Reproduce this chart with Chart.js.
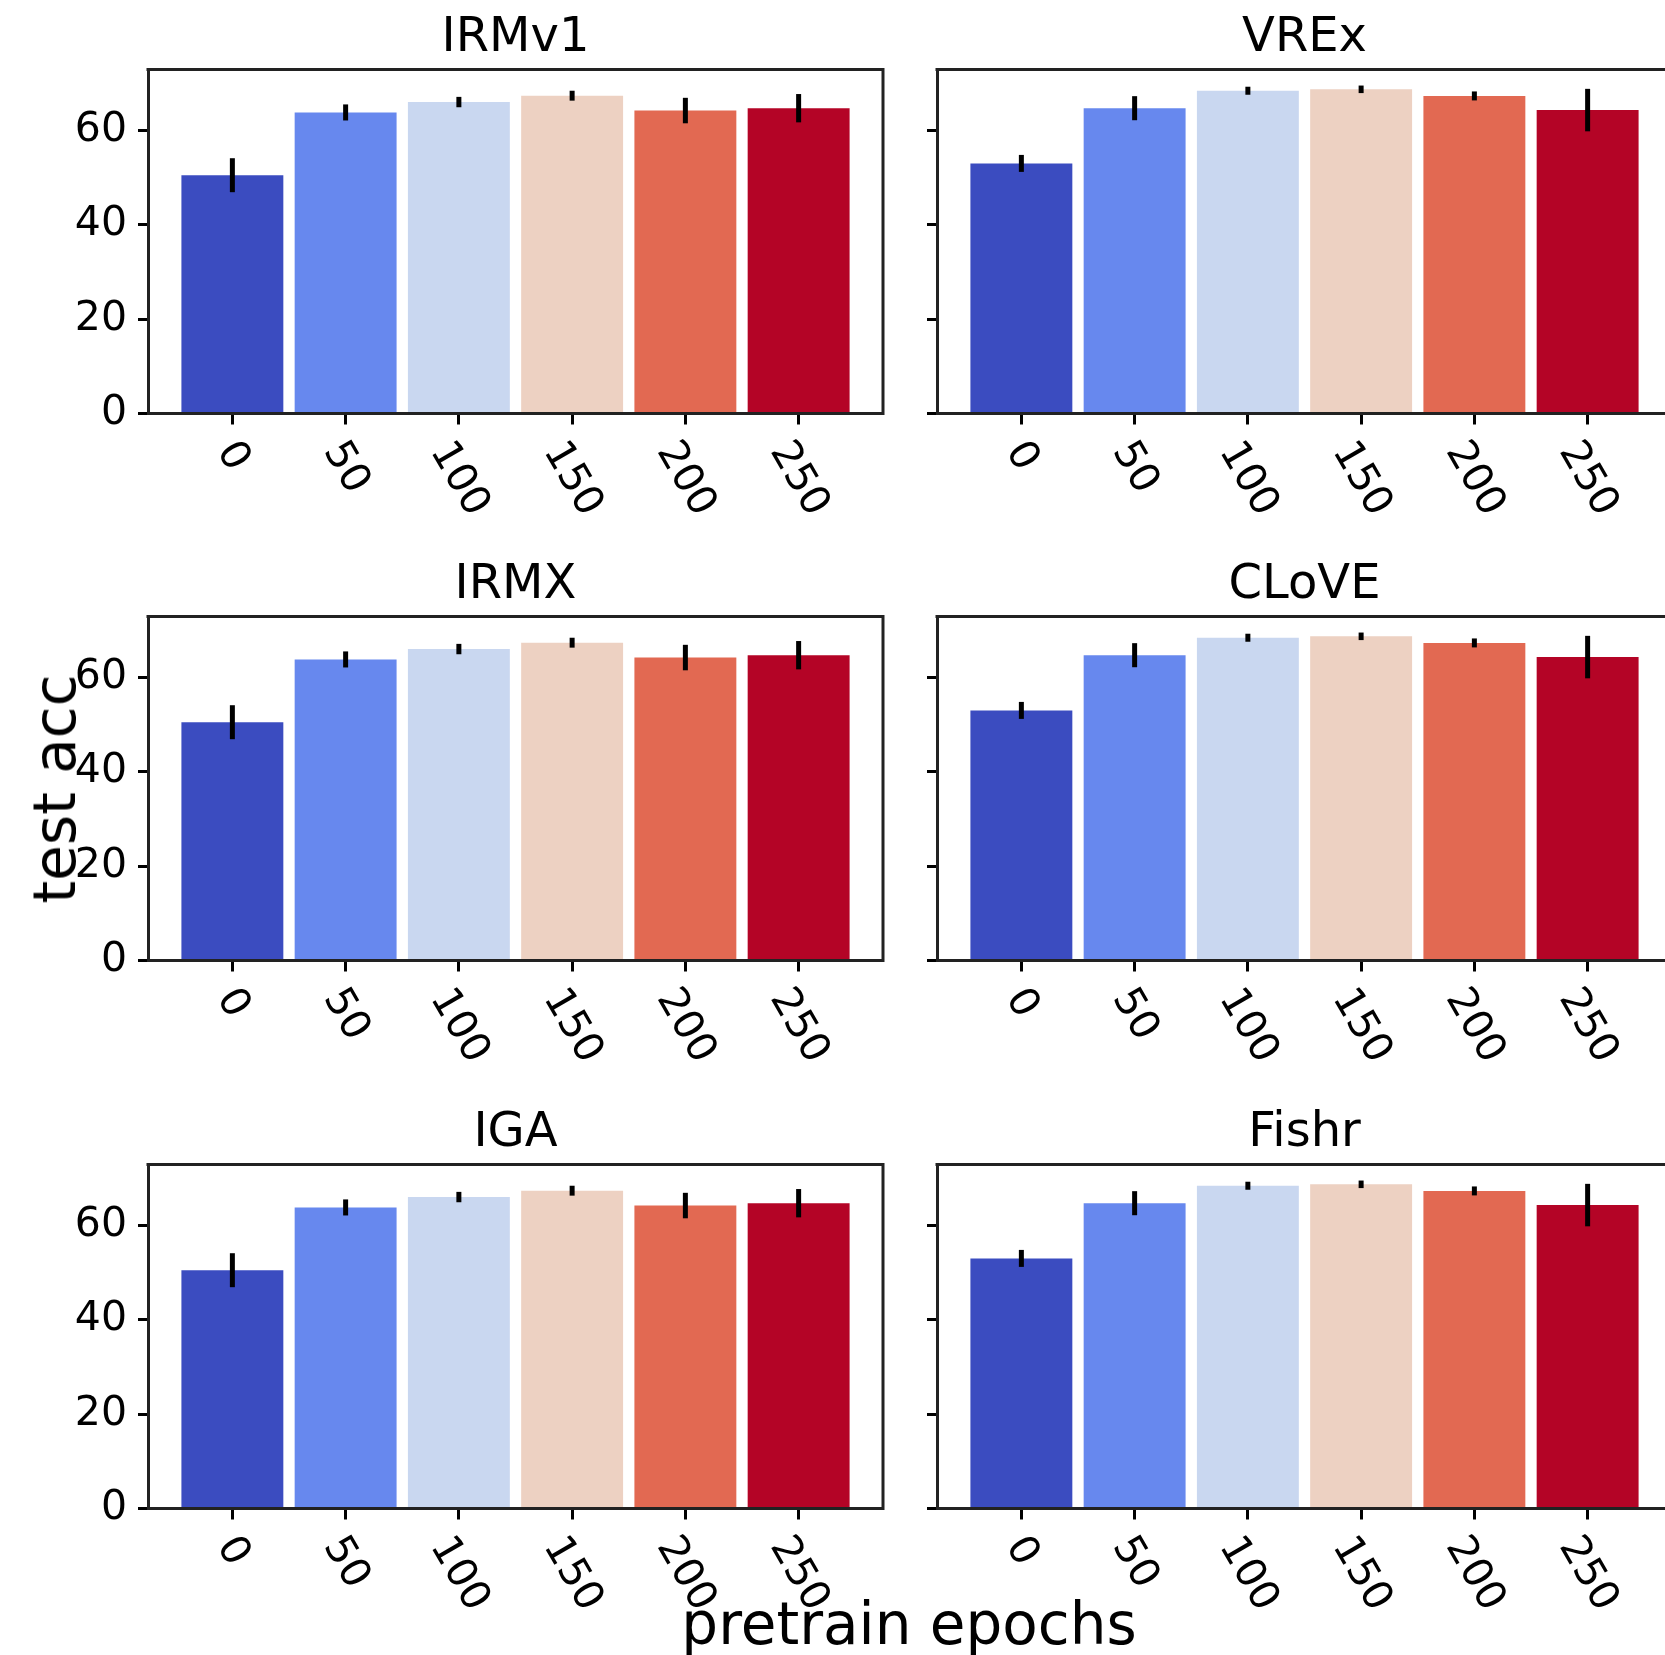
<!DOCTYPE html>
<html><head><meta charset="utf-8">
<script src="https://cdn.jsdelivr.net/npm/chart.js@4.4.1/dist/chart.umd.min.js"></script>
<style>
html,body{margin:0;padding:0;background:#fff;overflow:hidden;width:1665px;height:1655px;}
#fig{position:relative;width:1665px;height:1655px;overflow:hidden;background:#fff;}
canvas{position:absolute;}
.lbl{position:absolute;font-family:'DejaVu Sans';font-size:58px;line-height:58px;white-space:nowrap;color:#000;z-index:5;}
</style></head><body><div id="fig"></div>
<script>
// ---- data ----
const epochs = [0, 50, 100, 150, 200, 250];
const yTicks = [0, 20, 40, 60];
const titles = ['IRMv1', 'VREx', 'IRMX', 'CLoVE', 'IGA', 'Fishr'];
const irmv1Acc = [50.5, 63.8, 66.0, 67.35, 64.2, 64.7];
const irmv1Err = [3.6, 1.7, 1.1, 1.05, 2.7, 3.0];
const vrexAcc  = [53.0, 64.7, 68.4, 68.7, 67.3, 64.3];
const vrexErr  = [1.8, 2.55, 0.85, 0.8, 0.95, 4.5];
const irmxAcc  = [50.5, 63.8, 66.0, 67.35, 64.2, 64.7];
const irmxErr  = [3.6, 1.7, 1.1, 1.05, 2.7, 3.0];
const cloveAcc = [53.0, 64.7, 68.4, 68.7, 67.3, 64.3];
const cloveErr = [1.8, 2.55, 0.85, 0.8, 0.95, 4.5];
const igaAcc   = [50.5, 63.8, 66.0, 67.35, 64.2, 64.7];
const igaErr   = [3.6, 1.7, 1.1, 1.05, 2.7, 3.0];
const fishrAcc = [53.0, 64.7, 68.4, 68.7, 67.3, 64.3];
const fishrErr = [1.8, 2.55, 0.85, 0.8, 0.95, 4.5];
const barColors = ['#3b4cc0', '#6788ee', '#c9d7f0', '#edd1c2', '#e26952', '#b40426'];
const yLabel = 'test acc';
const xLabel = 'pretrain epochs';

Chart.defaults.font.family = 'DejaVu Sans';
const fig = document.getElementById('fig');
const TICK_FS = 41;

const errPlugin = {
  id: 'errbars',
  afterDatasetsDraw(chart) {
    const err = chart.options.plugins.errbars.err;
    const meta = chart.getDatasetMeta(0);
    const ys = chart.scales.y;
    const vals = chart.data.datasets[0].data;
    const ctx = chart.ctx;
    ctx.save();
    ctx.strokeStyle = '#000';
    ctx.lineWidth = 5;
    meta.data.forEach((bar, i) => {
      const v = vals[i].y;
      ctx.beginPath();
      ctx.moveTo(bar.x, ys.getPixelForValue(v + err[i]));
      ctx.lineTo(bar.x, ys.getPixelForValue(v - err[i]));
      ctx.stroke();
    });
    ctx.restore();
  }
};

const framePlugin = {
  id: 'frame',
  afterDraw(chart) {
    const ca = chart.chartArea, ctx = chart.ctx;
    ctx.save();
    ctx.strokeStyle = '#222';
    ctx.lineWidth = 3;
    ctx.beginPath();
    ctx.moveTo(ca.left - 1.5, ca.top);
    ctx.lineTo(ca.right, ca.top);
    ctx.lineTo(ca.right, ca.bottom + 1.5);
    ctx.stroke();
    ctx.restore();
  }
};

const xLabelPlugin = {
  id: 'xlabels',
  afterDraw(chart) {
    const ctx = chart.ctx, xs = chart.scales.x, ca = chart.chartArea;
    const th = 60 * Math.PI / 180;
    const fs = TICK_FS, h = 0.99 * fs;
    ctx.save();
    ctx.font = fs + 'px "DejaVu Sans"';
    ctx.fillStyle = '#000';
    ctx.textAlign = 'left';
    ctx.textBaseline = 'alphabetic';
    xs.ticks.forEach(t => {
      const lab = String(t.value);
      const w = ctx.measureText(lab).width;
      const H = w * Math.sin(th) + h * Math.cos(th);
      const cx = xs.getPixelForValue(t.value);
      const cy = ca.bottom + 21.5 + H / 2;
      ctx.save();
      ctx.translate(cx, cy);
      ctx.rotate(th);
      ctx.fillText(lab, -w / 2, 0.265 * fs);
      ctx.restore();
    });
    ctx.restore();
  }
};

function makePanel(idx, acc, err) {
  const col = idx % 2, row = Math.floor(idx / 2);
  const isLeft = col === 0;
  const cv = document.createElement('canvas');
  const W = isLeft ? 900 : 800, Hc = 546;
  cv.width = W; cv.height = Hc;
  cv.style.width = W + 'px'; cv.style.height = Hc + 'px';
  cv.style.left = (isLeft ? 0 : 897) + 'px';
  cv.style.top = [0, 547, 1095][row] + 'px';
  fig.appendChild(cv);
  new Chart(cv, {
    type: 'bar',
    data: {
      datasets: [{
        data: epochs.map((e, i) => ({x: e, y: acc[i]})),
        backgroundColor: barColors,
        borderWidth: 0,
        barPercentage: 0.9,
        categoryPercentage: 1.0
      }]
    },
    options: {
      responsive: false, animation: false, devicePixelRatio: 1,
      events: [],
      layout: {padding: {left: 0, right: isLeft ? 17 : 25, top: 0, bottom: 0}},
      plugins: {
        legend: {display: false},
        tooltip: {enabled: false},
        errbars: {err: err},
        title: {
          display: true, text: titles[idx], fullSize: false, color: '#000',
          font: {family: 'DejaVu Sans', size: 48, weight: 'normal', lineHeight: 1.2},
          padding: {top: 9.8, bottom: 2.1}
        }
      },
      scales: {
        x: {
          type: 'linear', min: -37.25, max: 287.25, offset: false, bounds: 'data',
          afterBuildTicks: s => { s.ticks = epochs.map(v => ({value: v})); },
          afterFit: s => { s.height = 132.5; },
          grid: {display: true, drawOnChartArea: false, drawTicks: true, tickLength: 11, tickWidth: 3, tickColor: '#000', offset: false},
          border: {display: true, width: 3, color: '#222', z: 1},
          ticks: {display: false}
        },
        y: {
          type: 'linear', min: 0, max: 72.9, bounds: 'data',
          afterBuildTicks: s => { s.ticks = yTicks.map(v => ({value: v})); },
          afterFit: s => { s.width = isLeft ? 148 : 40; },
          grid: {display: true, drawOnChartArea: false, drawTicks: true, tickLength: 10, tickWidth: 3, tickColor: '#000'},
          border: {display: true, width: 3, color: '#222', z: 1},
          ticks: {display: isLeft, color: '#000', padding: 11, font: {family: 'DejaVu Sans', size: TICK_FS}, callback: v => String(v)}
        }
      }
    },
    plugins: [errPlugin, framePlugin, xLabelPlugin]
  });
}

const accs = [irmv1Acc, vrexAcc, irmxAcc, cloveAcc, igaAcc, fishrAcc];
const errs = [irmv1Err, vrexErr, irmxErr, cloveErr, igaErr, fishrErr];
accs.forEach((a, i) => makePanel(i, a, errs[i]));

const yl = document.createElement('div');
yl.className = 'lbl';
yl.textContent = yLabel;
yl.style.left = '54.5px';
yl.style.top = '760px';
yl.style.transform = 'translate(-50%,0) rotate(-90deg)';
fig.appendChild(yl);

const xl = document.createElement('div');
xl.className = 'lbl';
xl.textContent = xLabel;
xl.style.left = '909px';
xl.style.top = '1595px';
xl.style.transform = 'translate(-50%,0)';
fig.appendChild(xl);
</script>
</body></html>
